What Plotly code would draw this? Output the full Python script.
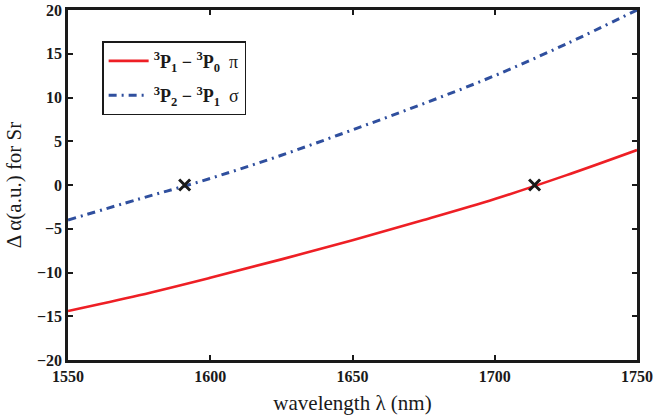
import plotly.graph_objects as go

# wavelength grid (nm) and polarizability differences (a.u.)
wavelength = [1550, 1575, 1600, 1625, 1650, 1675, 1700, 1725, 1750]
d_alpha_pi = [-14.4, -12.6, -10.6, -8.5, -6.3, -4.0, -1.6, 1.1, 4.0]
d_alpha_sigma = [-4.0, -1.6, 0.75, 3.4, 6.3, 9.3, 12.5, 16.1, 20.0]

# zero crossings (magic wavelengths)
cross_x = [1591, 1714]
cross_y = [0, 0]

xticks = [1550, 1600, 1650, 1700, 1750]
yticks = [-20, -15, -10, -5, 0, 5, 10, 15, 20]

serif = "Liberation Serif, Times New Roman, serif"
ink = "#1a1a1a"

fig = go.Figure()
fig.add_trace(go.Scatter(
    x=wavelength, y=d_alpha_pi, mode="lines", line_shape="spline",
    line=dict(color="#ee1f25", width=2.6), legendgroup="pi",
    name="<b><sup>3</sup>P<sub>1</sub> − <sup>3</sup>P<sub>0</sub></b>  π",
))
fig.add_trace(go.Scatter(
    x=wavelength, y=d_alpha_sigma, mode="lines", line_shape="spline",
    line=dict(color="#2f4f9e", width=3, dash="8px,5px,2px,5px"), legendgroup="sigma",
    name="<b><sup>3</sup>P<sub>2</sub> − <sup>3</sup>P<sub>1</sub></b>  σ",
))
fig.add_trace(go.Scatter(
    x=cross_x, y=cross_y, mode="markers", showlegend=False,
    marker=dict(symbol="x-thin", size=11, line=dict(color=ink, width=3)),
))

axis_common = dict(
    showline=True, linecolor=ink, linewidth=2.5, mirror="ticks",
    ticks="inside", ticklen=5, tickwidth=2, tickcolor=ink,
    showgrid=False, zeroline=False, automargin=False,
    tickfont=dict(family=serif, size=16, color=ink, weight="bold"),
)

fig.update_xaxes(
    range=[1550, 1750], tickvals=xticks,
    title=dict(text="wavelength λ (nm)", font=dict(family=serif, size=21, color=ink), standoff=12),
    **axis_common,
)
fig.update_yaxes(
    range=[-20, 20], tickvals=yticks,
    title=dict(text="Δ α(a.u.) for Sr", font=dict(family=serif, size=21, color=ink), standoff=10),
    **axis_common,
)

fig.update_layout(
    width=655, height=420,
    margin=dict(l=68, r=18, t=10, b=60),
    paper_bgcolor="white", plot_bgcolor="white",
    showlegend=True,
    legend=dict(
        x=0.06, y=0.911, xanchor="left", yanchor="top",
        bordercolor=ink, borderwidth=1.5, bgcolor="white",
        font=dict(family=serif, size=18, color=ink),
        itemwidth=40, tracegroupgap=8,
    ),
)

fig.write_html("out.html")
